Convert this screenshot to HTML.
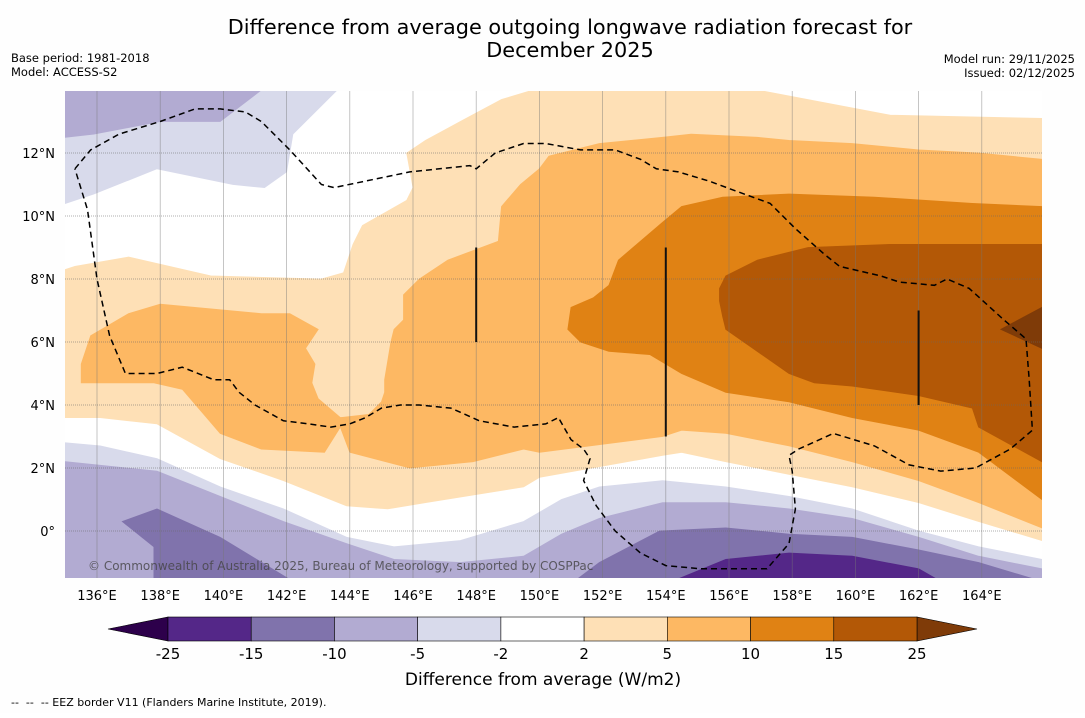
<!DOCTYPE html>
<html><head><meta charset="utf-8">
<style>
body{margin:0;background:#fff;width:1085px;height:713px;overflow:hidden;font-family:"Liberation Sans","DejaVu Sans",sans-serif;}
svg text{font-family:"DejaVu Sans","Liberation Sans",sans-serif;}
</style></head>
<body>
<svg id="chart" width="1085" height="713" viewBox="0 0 1085 713" xmlns="http://www.w3.org/2000/svg">
<rect width="1085" height="713" fill="#fefefe"/>
<text x="570" y="34" font-size="20.8" text-anchor="middle" fill="#000">Difference from average outgoing longwave radiation forecast for</text>
<text x="570" y="57" font-size="20.8" text-anchor="middle" fill="#000">December 2025</text>
<text x="11" y="62" font-size="11.5">Base period: 1981-2018</text>
<text x="11" y="76" font-size="11.5">Model: ACCESS-S2</text>
<text x="1075" y="63" font-size="11.5" text-anchor="end">Model run: 29/11/2025</text>
<text x="1075" y="77" font-size="11.5" text-anchor="end">Issued: 02/12/2025</text>
<defs><clipPath id="mapclip"><rect x="65" y="91" width="977" height="487"/></clipPath></defs>
<g id="map" clip-path="url(#mapclip)">
<rect x="65" y="91" width="977" height="487" fill="#ffffff"/>
<g id="fills"></g><g id="grid"></g><g id="marks"></g>
</g>
<g id="axes"></g>
<g id="cbar"></g>
<text x="88" y="570" font-size="12" fill="#444" fill-opacity="0.8">© Commonwealth of Australia 2025, Bureau of Meteorology, supported by COSPPac</text>
<text x="543" y="685" font-size="17" text-anchor="middle">Difference from average (W/m2)</text>
<text x="11" y="706" font-size="11" xml:space="preserve">--  --  -- EEZ border V11 (Flanders Marine Institute, 2019).</text>
</svg>
<script>
const lonTicks=[136,138,140,142,144,146,148,150,152,154,156,158,160,162,164];
const latTicks=[0,2,4,6,8,10,12];
const levels=[-25,-15,-10,-5,-2,2,5,10,15,25];
const levelColors=["#542788","#8073ac","#b2abd2","#d8daeb","#ffffff","#fee0b6","#fdb863","#e08214","#b35806"];
const lowColor="#2d004b", highColor="#7f3b08";

const topLeftMinus2=[[135,14],[143.6,14],[142.2,12.6],[142,11.4],[141.3,10.9],[140.3,11],[137.9,11.5],[135.9,10.7],[135,10.4]];
const topLeftMinus5=[[135,14],[141.2,14],[139.9,13],[138,13],[135.9,12.6],[135,12.5]];
const plus2=[[135,8.3],[135.3,8.4],[137,8.7],[139.6,8.1],[143.1,8.0],[143.8,8.2],[144.1,9.1],[144.4,9.7],[145.8,10.5],[146,10.9],[145.8,12],[146.4,12.4],[147.5,13],[148.8,13.7],[149.8,14],[156.9,14],[161.1,13.2],[165.9,13.1],[165.9,-0.3],[163.9,0.3],[162,0.9],[159.9,1.4],[157.9,1.8],[155.9,2.2],[154.5,2.5],[153.9,2.4],[150,1.7],[149.5,1.4],[146.4,0.9],[145.2,0.7],[143.9,0.8],[141.9,1.6],[139.9,2.3],[137.9,3.4],[136.1,3.6],[135,3.6]];
const plus5West=[[135.8,6.2],[137,6.9],[138,7.2],[141.2,6.9],[142.1,6.9],[143,6.4],[142.6,5.8],[142.9,5.3],[142.8,4.7],[143,4.2],[143.7,3.6],[144,3.6],[143.7,3.3],[143.2,2.5],[141.2,2.6],[139.9,3.1],[138.7,4.5],[137.8,4.7],[135.5,4.7],[135.5,5.3]];
const plus5Main=[[143.7,3.6],[144.6,3.7],[145,4.1],[145.1,4.4],[145.1,4.8],[145.3,6],[145.4,6.4],[145.7,6.7],[145.7,7.5],[146.2,8],[147.1,8.6],[148.7,9.2],[148.8,10.3],[149.4,11],[150,11.5],[150.3,11.9],[151.9,12.3],[153.9,12.5],[154.8,12.6],[156.9,12.5],[157.9,12.4],[159.9,12.3],[162,12.1],[163.9,12],[165.9,11.8],[165.9,0.1],[163.9,0.9],[162,1.6],[159.9,2.2],[157.9,2.7],[155.9,3.1],[154.5,3.2],[153.9,3],[150,2.5],[149.5,2.6],[147.9,2.2],[145.9,2],[144,2.5],[143.7,3.3]];
const plus10=[[150.9,6.4],[151,7.1],[151.7,7.4],[152.2,7.8],[152.5,8.6],[153.2,9.2],[153.9,9.8],[154.5,10.3],[155.8,10.6],[157.9,10.7],[160.6,10.6],[163.7,10.4],[165.9,10.3],[165.9,1],[163.9,2.5],[162,3.2],[159.9,3.6],[157.9,4.1],[155.9,4.4],[154.5,5],[153.5,5.6],[152.2,5.7],[151.3,6],[150.9,6.4]];
const plus15=[[155.7,7.7],[155.9,8.1],[156.9,8.6],[158.5,9],[161.1,9.1],[165.9,9.1],[165.9,2.2],[163.9,3.3],[163.7,3.9],[162,4.3],[159.9,4.6],[158.7,4.7],[157.9,5],[155.9,6.4],[155.8,6.8],[155.7,7.3]];
const plus25=[[164.6,6.4],[165.9,7.1],[165.9,5.8]];
const minus2South=[[135,2.8],[136.1,2.7],[137.9,2.3],[139.9,1.4],[141.9,0.7],[143.9,-0.2],[145.4,-0.5],[147.5,-0.3],[149.5,0.3],[150.7,1],[151.9,1.4],[153.9,1.6],[155.9,1.4],[157.9,1.1],[159.9,0.7],[162,0],[163.9,-0.5],[165.9,-0.9],[165.9,-1.6],[135,-1.6]];
const minus5South=[[135,2.2],[137.9,1.9],[139.9,1.1],[141.9,0.3],[143.9,-0.4],[145.4,-0.9],[147.5,-1],[149.5,-0.8],[150.7,-0.1],[151.9,0.4],[153.9,0.9],[155.9,0.9],[157.9,0.7],[159.9,0.4],[162,-0.2],[163.9,-0.8],[165.9,-1.2],[165.9,-1.6],[135,-1.6]];
const minus10West=[[136.8,0.3],[137.9,0.7],[139.9,-0.2],[142.2,-1.6],[137.8,-1.6],[137.8,-0.5]];
const minus10East=[[151.1,-1.6],[151.9,-1],[153.8,0],[155.9,0.1],[157.9,-0.1],[159.9,-0.2],[162,-0.6],[163.9,-1],[165.9,-1.6]];
const minus15=[[154.2,-1.6],[155.9,-0.9],[157.9,-0.7],[159.9,-0.8],[162,-1.2],[162.7,-1.6]];
const eezBorder=[[135.3,11.5],[135.8,12.1],[136.7,12.6],[138,13],[139.1,13.4],[139.9,13.4],[140.7,13.3],[141.2,13.0],[142.1,12.1],[143.1,11.0],[143.5,10.9],[145.9,11.4],[147.8,11.6],[148.0,11.5],[148.6,12.0],[149.5,12.3],[150.2,12.3],[151.3,12.1],[152.4,12.1],[153.2,11.8],[153.7,11.5],[154.4,11.4],[155.4,11.1],[156.2,10.8],[157.3,10.4],[158.1,9.6],[159.0,8.8],[159.5,8.4],[160.8,8.1],[161.4,7.9],[162.5,7.8],[162.9,8.0],[163.6,7.7],[164.7,6.7],[165.4,6.1],[165.5,4.8],[165.6,3.2],[164.9,2.6],[163.8,2.0],[162.7,1.9],[161.7,2.1],[160.6,2.7],[159.3,3.1],[158.2,2.6],[157.9,2.4],[158.0,1.9],[158.1,0.7],[157.9,-0.4],[157.2,-1.2],[155.1,-1.2],[154.0,-1.1],[153.2,-0.7],[152.4,0.0],[151.8,0.8],[151.4,1.6],[151.6,2.3],[151.4,2.6],[151.0,2.9],[150.6,3.6],[150.2,3.4],[149.2,3.3],[148.1,3.5],[147.2,3.9],[146.2,4.0],[145.6,4.0],[145.0,3.9],[144.5,3.6],[144.0,3.4],[143.4,3.3],[142.7,3.4],[141.9,3.5],[141.0,4.0],[140.5,4.4],[140.2,4.8],[139.7,4.8],[138.7,5.2],[137.9,5.0],[136.9,5.0],[136.4,6.2],[136.0,8.0],[135.7,10.2],[135.3,11.5]];
const verticalSegments=[[148,9,6],[154,9,3],[162,7,4]];

const NS="http://www.w3.org/2000/svg";
const X=lon=>65.4+(lon-135)*31.6;
const Y=lat=>531-lat*31.5;
const pts=a=>a.map(p=>X(p[0]).toFixed(1)+","+Y(p[1]).toFixed(1)).join(" ");
function mk(tag,attrs,parent){const e=document.createElementNS(NS,tag);for(const k in attrs)e.setAttribute(k,attrs[k]);parent.appendChild(e);return e;}
const fills=document.getElementById('fills');
const layers=[[topLeftMinus2,3,'contour-minus2-north'],[topLeftMinus5,2,'contour-minus5-north'],[plus2,5,'contour-plus2'],[plus5West,6,'contour-plus5-west'],[plus5Main,6,'contour-plus5-main'],[plus10,7,'contour-plus10'],[plus15,8,'contour-plus15'],[plus25,-1,'contour-plus25'],[minus2South,3,'contour-minus2-south'],[minus5South,2,'contour-minus5-south'],[minus10West,1,'contour-minus10-west'],[minus10East,1,'contour-minus10-east'],[minus15,0,'contour-minus15']];
layers.forEach(L=>{
  const col=L[1]<0?highColor:levelColors[L[1]];
  const p=mk('polygon',{points:pts(L[0]),fill:col,stroke:col,'stroke-width':'0.8'},fills);
  
  
});
const grid=document.getElementById('grid');
lonTicks.forEach(l=>{
  const g=mk('line',{x1:X(l),x2:X(l),y1:91,y2:578,stroke:'#777','stroke-width':'0.7','stroke-opacity':'0.6'},grid);
  
  
});
latTicks.forEach(l=>{
  const g=mk('line',{x1:65,x2:1042,y1:Y(l),y2:Y(l),stroke:'#666','stroke-width':'0.8','stroke-dasharray':'1 1','stroke-opacity':'0.7'},grid);
  
  
});
const marks=document.getElementById('marks');
const eez=mk('polyline',{points:pts(eezBorder),fill:'none',stroke:'#000','stroke-width':'1.5','stroke-dasharray':'6 4'},marks);


verticalSegments.forEach(s=>{
  const v=mk('line',{x1:X(s[0]),x2:X(s[0]),y1:Y(s[1]),y2:Y(s[2]),stroke:'#111','stroke-width':'2'},marks);
  
  
});
const axes=document.getElementById('axes');
lonTicks.forEach(l=>{
  const t=mk('text',{x:X(l),y:600,'font-size':'13','text-anchor':'middle'},axes);
  t.textContent=l+'°E';
  
  
});
latTicks.forEach(l=>{
  const t=mk('text',{x:55,y:Y(l)+5,'font-size':'13','text-anchor':'end'},axes);
  t.textContent=l===0?'0°':l+'°N';
  
  
});
const cb=document.getElementById('cbar');
const cx0=168,cx1=917,cy=617,ch=24,cw=(cx1-cx0)/levelColors.length;
const lt=mk('polygon',{points:`${cx0},${cy} ${cx0},${cy+ch} 108,${cy+ch/2}`,fill:lowColor,stroke:'#000','stroke-width':'0.6'},cb);


const rt=mk('polygon',{points:`${cx1},${cy} ${cx1},${cy+ch} 977,${cy+ch/2}`,fill:highColor,stroke:'#000','stroke-width':'0.6'},cb);


levelColors.forEach((c,i)=>{
  const r=mk('rect',{x:cx0+i*cw,y:cy,width:cw,height:ch,fill:c,stroke:'#000','stroke-width':'0.6'},cb);
  
  
});
levels.forEach((v,i)=>{
  const t=mk('text',{x:cx0+i*cw,y:659,'font-size':'15','text-anchor':'middle'},cb);
  t.textContent=v;
  
  
});
</script>
</body></html>
